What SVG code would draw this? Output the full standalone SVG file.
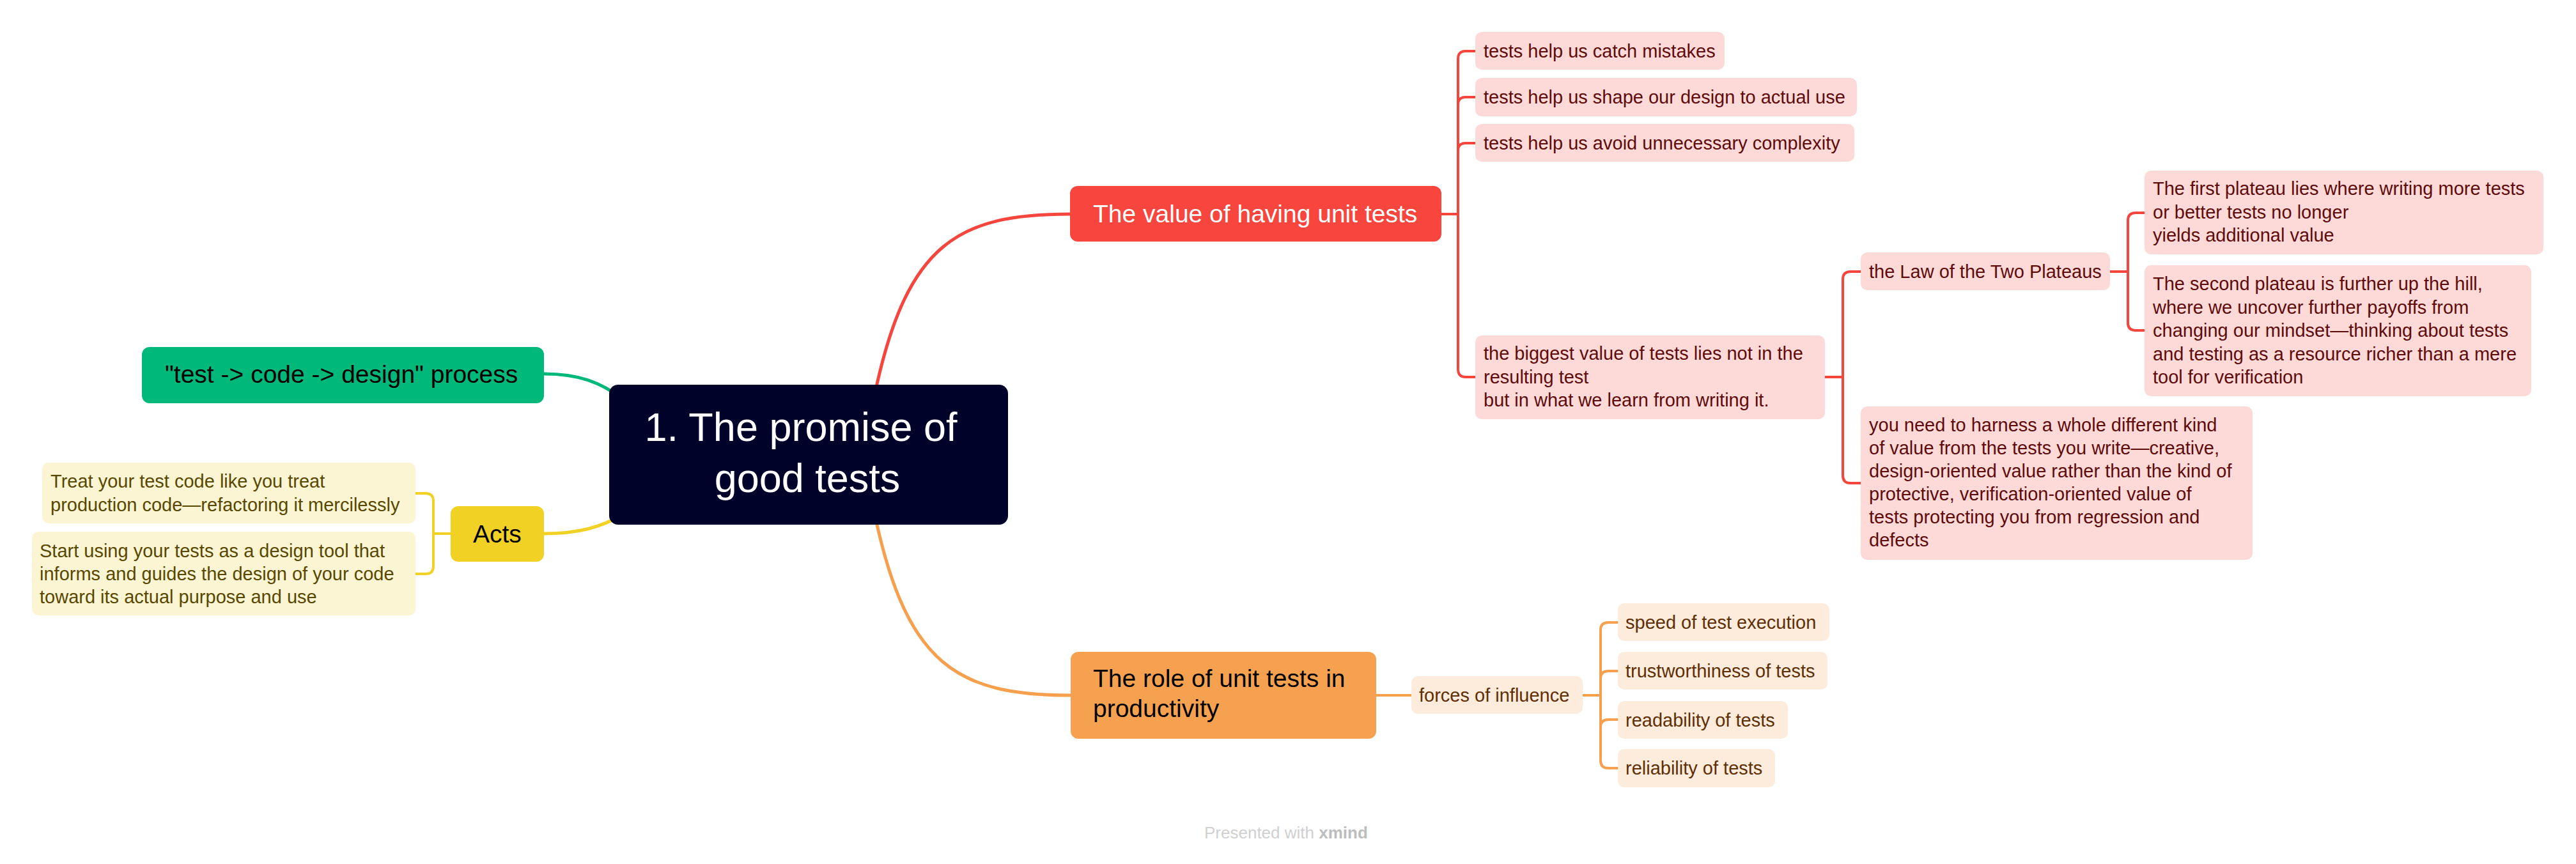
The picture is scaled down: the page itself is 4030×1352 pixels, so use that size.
<svg xmlns="http://www.w3.org/2000/svg" width="4030" height="1352" viewBox="0 0 4030 1352">
<style>
text{font-family:"Liberation Sans",Arial,sans-serif;}
.l1{font-size:39px;}
.sm{font-size:29px;}
.ctr{font-size:63px;fill:#ffffff;text-anchor:middle;}
.c-red{fill:none;stroke:#F6453D;stroke-width:5;stroke-linecap:round;}
.c-org{fill:none;stroke:#F6A04D;stroke-width:5;stroke-linecap:round;}
.c-grn{fill:none;stroke:#00B87A;stroke-width:5;stroke-linecap:round;}
.c-yel{fill:none;stroke:#F2D125;stroke-width:5;stroke-linecap:round;}
.b-red{fill:none;stroke:#F6453D;stroke-width:4;}
.b-org{fill:none;stroke:#F6A04D;stroke-width:4;}
.b-yel{fill:none;stroke:#F2D125;stroke-width:4;}
.lr{fill:#FDD9D8;}
.lo{fill:#FDEBDC;}
.ly{fill:#FCF5D3;}
.tr{fill:#5E0B0B;}
.to{fill:#5E2F05;}
.ty{fill:#574700;}
</style>
<rect width="4030" height="1352" fill="#ffffff"/>
<g id="connectors">
<path class="c-red" d="M1370,610 C1420,380 1500,335 1674,335"/>
<path class="c-org" d="M1370,812 C1420,1042 1500,1088 1675,1088"/>
<path class="c-grn" d="M851,585 C905,585 940,598 975,625"/>
<path class="c-yel" d="M851,835 C905,835 940,825 975,805"/>
<path class="b-red" d="M2255,335 L2281,335"/>
<path class="b-red" d="M2308,80 L2293,80 Q2281,80 2281,92 L2281,578 Q2281,590 2293,590 L2308,590"/>
<path class="b-red" d="M2281,164 Q2281,152 2293,152 L2308,152"/>
<path class="b-red" d="M2281,236 Q2281,224 2293,224 L2308,224"/>
<path class="b-red" d="M2855,590 L2883,590"/>
<path class="b-red" d="M2911,425 L2895,425 Q2883,425 2883,437 L2883,744 Q2883,756 2895,756 L2911,756"/>
<path class="b-red" d="M3301,425 L3329,425"/>
<path class="b-red" d="M3355,333 L3341,333 Q3329,333 3329,345 L3329,505 Q3329,517 3341,517 L3355,517"/>
<path class="b-org" d="M2153,1088 L2208,1088"/>
<path class="b-org" d="M2476,1088 L2504,1088"/>
<path class="b-org" d="M2531,974 L2516,974 Q2504,974 2504,986 L2504,1190 Q2504,1202 2516,1202 L2531,1202"/>
<path class="b-org" d="M2504,1062 Q2504,1050 2516,1050 L2531,1050"/>
<path class="b-org" d="M2504,1138 Q2504,1126 2516,1126 L2531,1126"/>
<path class="b-yel" d="M705,835 L678,835"/>
<path class="b-yel" d="M650,772 L666,772 Q678,772 678,784 L678,886 Q678,898 666,898 L650,898"/>
</g>
<g id="central">
<rect x="953" y="602" width="624" height="219" rx="14" fill="#000229"/>
<text class="ctr" x="1253" y="690">1. The promise of</text>
<text class="ctr" x="1263" y="770">good tests</text>
</g>
<g id="value">
<rect x="1674" y="291" width="581" height="87" rx="12" fill="#F8453D"/>
<text class="l1" x="1710" y="348" fill="#ffffff">The value of having unit tests</text>
</g>
<g id="role">
<rect x="1675" y="1020" width="478" height="136" rx="12" fill="#F6A14F"/>
<text class="l1" x="1710" y="1075" fill="#000000">The role of unit tests in</text>
<text class="l1" x="1710" y="1122" fill="#000000">productivity</text>
</g>
<g id="process">
<rect x="222" y="543" width="629" height="88" rx="12" fill="#00B87A"/>
<text class="l1" x="258" y="599" fill="#000000">"test -&gt; code -&gt; design" process</text>
</g>
<g id="acts">
<rect x="705" y="792" width="146" height="87" rx="12" fill="#F2D125"/>
<text class="l1" x="740" y="849" fill="#000000">Acts</text>
</g>
<g id="catch">
<rect class="lr" x="2308" y="50" width="390" height="59" rx="10"/>
<text class="sm tr" x="2321" y="90">tests help us catch mistakes</text>
</g>
<g id="shape">
<rect class="lr" x="2308" y="122" width="597" height="60" rx="10"/>
<text class="sm tr" x="2321" y="162">tests help us shape our design to actual use</text>
</g>
<g id="avoid">
<rect class="lr" x="2308" y="194" width="593" height="59" rx="10"/>
<text class="sm tr" x="2321" y="234">tests help us avoid unnecessary complexity</text>
</g>
<g id="biggest">
<rect class="lr" x="2308" y="525" width="547" height="131" rx="10"/>
<text class="sm tr" x="2321" y="563">the biggest value of tests lies not in the</text>
<text class="sm tr" x="2321" y="599.5">resulting test</text>
<text class="sm tr" x="2321" y="636">but in what we learn from writing it.</text>
</g>
<g id="law">
<rect class="lr" x="2911" y="395" width="390" height="59" rx="10"/>
<text class="sm tr" x="2924" y="435">the Law of the Two Plateaus</text>
</g>
<g id="plateau1">
<rect class="lr" x="3355" y="267" width="624" height="131" rx="10"/>
<text class="sm tr" x="3368" y="305">The first plateau lies where writing more tests</text>
<text class="sm tr" x="3368" y="341.5">or better tests no longer</text>
<text class="sm tr" x="3368" y="378">yields additional value</text>
</g>
<g id="plateau2">
<rect class="lr" x="3355" y="415" width="605" height="205" rx="10"/>
<text class="sm tr" x="3368" y="454">The second plateau is further up the hill,</text>
<text class="sm tr" x="3368" y="490.5">where we uncover further payoffs from</text>
<text class="sm tr" x="3368" y="527">changing our mindset—thinking about tests</text>
<text class="sm tr" x="3368" y="563.5">and testing as a resource richer than a mere</text>
<text class="sm tr" x="3368" y="600">tool for verification</text>
</g>
<g id="harness">
<rect class="lr" x="2911" y="636" width="613" height="240" rx="10"/>
<text class="sm tr" x="2924" y="675">you need to harness a whole different kind</text>
<text class="sm tr" x="2924" y="711">of value from the tests you write—creative,</text>
<text class="sm tr" x="2924" y="747">design-oriented value rather than the kind of</text>
<text class="sm tr" x="2924" y="783">protective, verification-oriented value of</text>
<text class="sm tr" x="2924" y="819">tests protecting you from regression and</text>
<text class="sm tr" x="2924" y="855">defects</text>
</g>
<g id="forces">
<rect class="lo" x="2208" y="1058" width="268" height="59" rx="10"/>
<text class="sm to" x="2220" y="1098">forces of influence</text>
</g>
<g id="speed">
<rect class="lo" x="2531" y="944" width="331" height="59" rx="10"/>
<text class="sm to" x="2543" y="984">speed of test execution</text>
</g>
<g id="trust">
<rect class="lo" x="2531" y="1020" width="328" height="59" rx="10"/>
<text class="sm to" x="2543" y="1060">trustworthiness of tests</text>
</g>
<g id="readability">
<rect class="lo" x="2531" y="1097" width="266" height="59" rx="10"/>
<text class="sm to" x="2543" y="1137">readability of tests</text>
</g>
<g id="reliability">
<rect class="lo" x="2531" y="1172" width="246" height="60" rx="10"/>
<text class="sm to" x="2543" y="1212">reliability of tests</text>
</g>
<g id="treat">
<rect class="ly" x="66" y="724" width="584" height="95" rx="10"/>
<text class="sm ty" x="79" y="763">Treat your test code like you treat</text>
<text class="sm ty" x="79" y="800">production code—refactoring it mercilessly</text>
</g>
<g id="start">
<rect class="ly" x="50" y="832" width="600" height="131" rx="10"/>
<text class="sm ty" x="62" y="872">Start using your tests as a design tool that</text>
<text class="sm ty" x="62" y="908">informs and guides the design of your code</text>
<text class="sm ty" x="62" y="944">toward its actual purpose and use</text>
</g>
<g id="footer">
<text x="1884" y="1312" font-size="26" fill="#D0D0D0">Presented with <tspan font-weight="bold" fill="#BDBDBD">xmind</tspan></text>
</g>
</svg>
